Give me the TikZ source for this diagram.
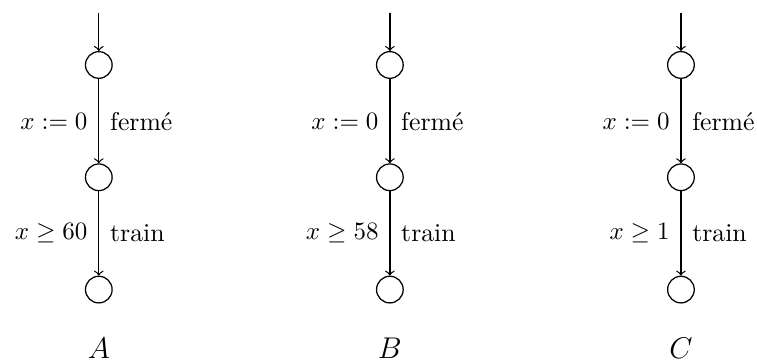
\documentclass[tikz,border=0pt]{standalone}
\usepackage{amsmath}
\usepackage{amssymb}
\usetikzlibrary{arrows, positioning}

\begin{document}
\begin{tikzpicture}[node distance=1.58cm, auto, line width=0.5pt,
    every node/.style={font=\fontsize{10.3}{12.5}\selectfont, inner sep=4.3pt},
    state/.style={circle, draw, inner sep=0pt, minimum size=0.375cm},
    autlabel/.style={font=\fontsize{12.5}{15}\selectfont},
    arrow/.style={->}]
    \useasboundingbox (0,0) rectangle (10.65,-5.08);

    % automate A
    \node [state] (a0) at (1.39,-0.914) {};
    \node [state, below of=a0] (a1) {};
    \node [state, below of=a1] (a2) {};
    \node [autlabel, below of=a2, node distance=0.83cm] (nameA) {$A$};
    \coordinate [above of=a0, node distance=0.735cm] (inA);

    % automate B
    \node [state, right of=a0, node distance=4.095cm] (b0) {};
    \node [state, below of=b0] (b1) {};
    \node [state, below of=b1] (b2) {};
    \node [autlabel, below of=b2, node distance=0.83cm] (nameB) {$B$};
    \coordinate [above of=b0, node distance=0.735cm] (inB);

    % automate C
    \node [state, right of=b0, node distance=4.095cm] (c0) {};
    \node [state, below of=c0] (c1) {};
    \node [state, below of=c1] (c2) {};
    \node [autlabel, below of=c2, node distance=0.83cm] (nameC) {$C$};
    \coordinate [above of=c0, node distance=0.735cm] (inC);

    \draw [arrow] (inA) -- (a0);
    \draw [arrow] (a0) -- node[left] {$x := 0$} node[right] {ferm\'e} (a1);
    \draw [arrow] (a1) -- node[left] {$x \geq 60$} node[right] {train} (a2);

    \draw [arrow] (inB) -- (b0);
    \draw [arrow] (b0) -- node[left] {$x := 0$} node[right] {ferm\'e} (b1);
    \draw [arrow] (b1) -- node[left] {$x \geq 58$} node[right] {train} (b2);

    \draw [arrow] (inC) -- (c0);
    \draw [arrow] (c0) -- node[left] {$x := 0$} node[right] {ferm\'e} (c1);
    \draw [arrow] (c1) -- node[left] {$x \geq 1$} node[right] {train} (c2);
\end{tikzpicture}
\end{document}
